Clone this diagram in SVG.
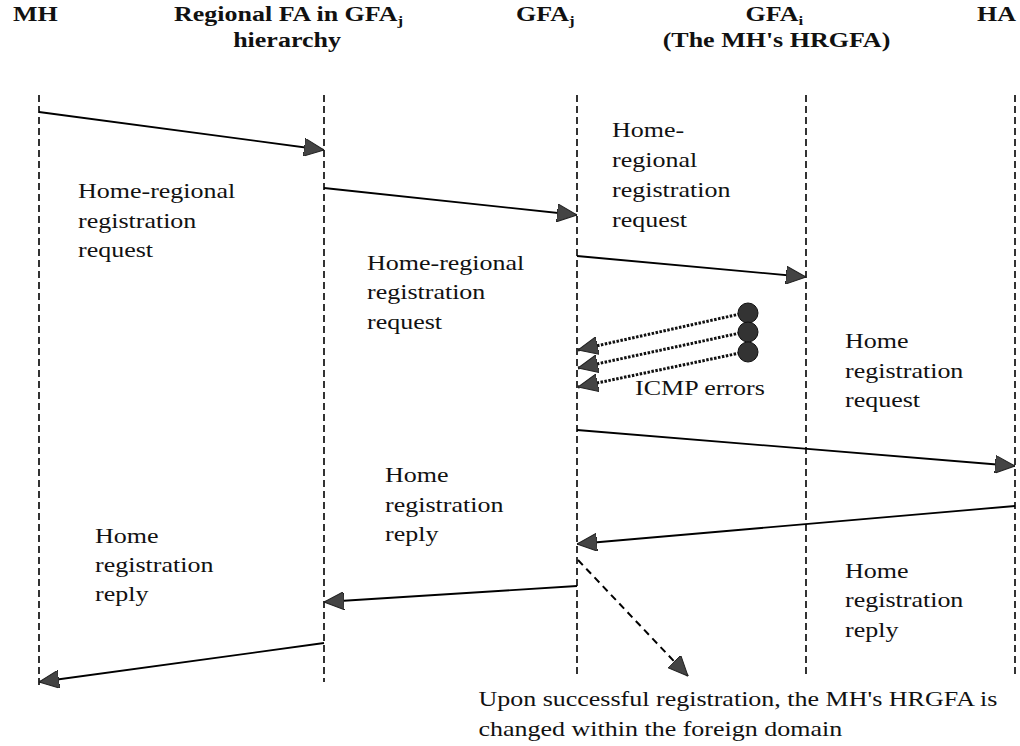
<svg xmlns="http://www.w3.org/2000/svg" width="1020" height="746" viewBox="0 0 1020 746">
  <style>
    .life { stroke: #000; stroke-width: 1.6; stroke-dasharray: 7 4; fill: none; }
    .msg { stroke: #000; stroke-width: 1.8; fill: none; }
    .icmp { stroke: #111; stroke-width: 3; stroke-dasharray: 2.5 1.5; fill: none; }
    .note { stroke: #000; stroke-width: 2; stroke-dasharray: 7 5; fill: none; }
    .t { font-family: "Liberation Serif", "Times New Roman", serif; font-size: 20px; fill: #111; }
    .h { font-family: "Liberation Serif", "Times New Roman", serif; font-size: 20px; font-weight: bold; fill: #111; }
    .sub { font-size: 13px; }
  </style>
  <defs>
    <marker id="head" viewBox="0 0 20 18" refX="20" refY="9" markerWidth="20" markerHeight="18" markerUnits="userSpaceOnUse" orient="auto">
      <path d="M0,0 L20,9 L0,18 z" fill="#444" stroke="#222" stroke-width="1"/>
    </marker>
  </defs>
  <rect width="1020" height="746" fill="#fff"/>

  <!-- lifelines -->
  <g id="lifelines">
    <line id="life-mh" class="life" x1="39" y1="95" x2="39" y2="686"/>
    <line id="life-rfa" class="life" x1="324" y1="95" x2="324" y2="682"/>
    <line id="life-gfaj" class="life" x1="577" y1="95" x2="577" y2="676"/>
    <line id="life-gfai" class="life" x1="806" y1="95" x2="806" y2="676"/>
    <line id="life-ha" class="life" x1="1015" y1="95" x2="1015" y2="676"/>
  </g>

  <!-- connectors -->
  <g id="connectors">
    <line class="msg" x1="39" y1="112" x2="324" y2="150" marker-end="url(#head)"/>
    <line class="msg" x1="324" y1="188" x2="577" y2="215" marker-end="url(#head)"/>
    <line class="msg" x1="577" y1="256" x2="806" y2="277" marker-end="url(#head)"/>
    <line class="icmp" x1="740" y1="314" x2="578" y2="350" marker-end="url(#head)"/>
    <line class="icmp" x1="740" y1="333" x2="578" y2="368" marker-end="url(#head)"/>
    <line class="icmp" x1="740" y1="353" x2="578" y2="387" marker-end="url(#head)"/>
    <line class="msg" x1="577" y1="430" x2="1015" y2="466" marker-end="url(#head)"/>
    <line class="msg" x1="1015" y1="506" x2="577" y2="544" marker-end="url(#head)"/>
    <line class="msg" x1="577" y1="586" x2="324" y2="602" marker-end="url(#head)"/>
    <line class="msg" x1="324" y1="643" x2="39" y2="682" marker-end="url(#head)"/>
    <line class="note" x1="578" y1="560" x2="688" y2="676" marker-end="url(#head)"/>
  </g>

  <!-- ICMP error sources -->
  <g id="icmp-sources" fill="#333" stroke="#111" stroke-width="1">
    <circle cx="748" cy="313" r="10"/>
    <circle cx="748" cy="332" r="10"/>
    <circle cx="748" cy="352" r="10"/>
  </g>

  <!-- labels, set in a horizontally widened face -->
  <g id="labels" transform="scale(1.3 1)">
    <g id="hdr-mh"><text class="h" x="10" y="21">MH</text></g>
    <g id="hdr-rfa">
      <text class="h" x="133.8" y="21">Regional FA in GFA<tspan class="sub" dy="4">j</tspan></text>
      <text class="h" x="220.8" y="47" text-anchor="middle">hierarchy</text>
    </g>
    <g id="hdr-gfaj"><text class="h" x="397" y="21">GFA<tspan class="sub" dy="4">j</tspan></text></g>
    <g id="hdr-gfai">
      <text class="h" x="573.5" y="21">GFA<tspan class="sub" dy="4">i</tspan></text>
      <text class="h" x="597.3" y="47" text-anchor="middle">(The MH's HRGFA)</text>
    </g>
    <g id="hdr-ha"><text class="h" x="751.5" y="21">HA</text></g>

    <text class="t" x="60" y="198">Home-regional</text>
    <text class="t" x="60" y="228">registration</text>
    <text class="t" x="60" y="257">request</text>

    <text class="t" x="282.3" y="270">Home-regional</text>
    <text class="t" x="282.3" y="299">registration</text>
    <text class="t" x="282.3" y="329">request</text>

    <text class="t" x="470.8" y="137">Home-</text>
    <text class="t" x="470.8" y="167">regional</text>
    <text class="t" x="470.8" y="197">registration</text>
    <text class="t" x="470.8" y="227">request</text>

    <text class="t" x="650" y="348">Home</text>
    <text class="t" x="650" y="378">registration</text>
    <text class="t" x="650" y="407">request</text>

    <text class="t" x="488.5" y="395">ICMP errors</text>

    <text class="t" x="296.2" y="482">Home</text>
    <text class="t" x="296.2" y="512">registration</text>
    <text class="t" x="296.2" y="541">reply</text>

    <text class="t" x="73.1" y="543">Home</text>
    <text class="t" x="73.1" y="572">registration</text>
    <text class="t" x="73.1" y="601">reply</text>

    <text class="t" x="650" y="578">Home</text>
    <text class="t" x="650" y="607">registration</text>
    <text class="t" x="650" y="637">reply</text>

    <text class="t" x="368" y="706">Upon successful registration, the MH's HRGFA is</text>
    <text class="t" x="368" y="736">changed within the foreign domain</text>
  </g>
</svg>
